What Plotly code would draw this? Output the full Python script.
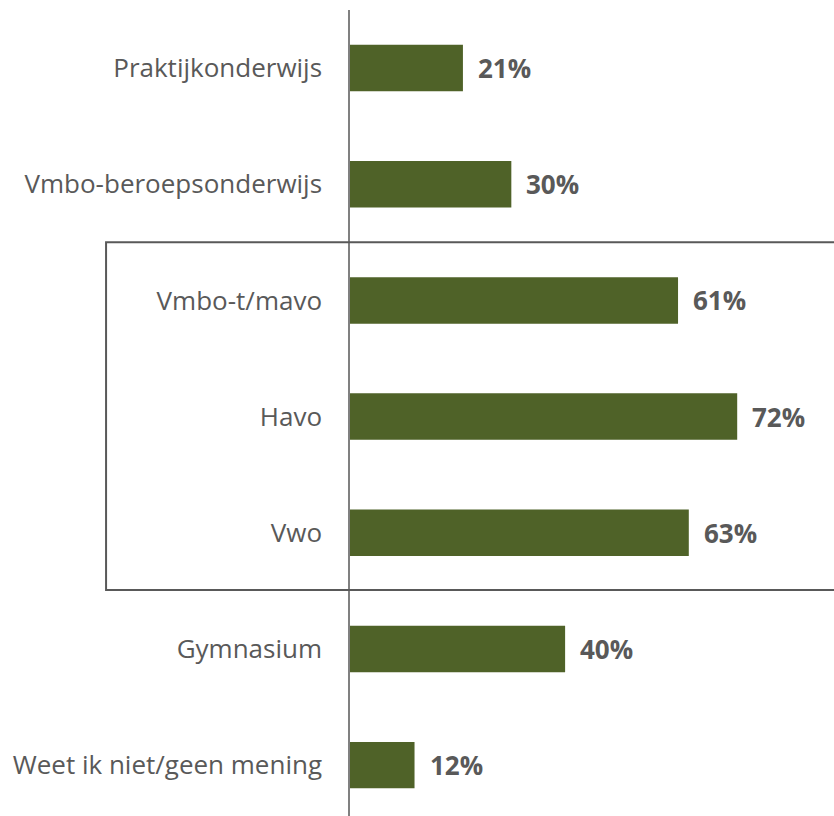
import plotly.graph_objects as go

categories = ["Praktijkonderwijs", "Vmbo-beroepsonderwijs", "Vmbo-t/mavo", "Havo", "Vwo",
              "Gymnasium", "Weet ik niet/geen mening"]
values = [21, 30, 61, 72, 63, 40, 12]
value_labels = [f"{v}%" for v in values]

BAR_COLOR = "#4F6228"
TEXT_COLOR = "#595959"
FONT = "Open Sans"

fig = go.Figure()
fig.add_trace(go.Bar(
    x=values, y=categories, orientation="h",
    marker=dict(color=BAR_COLOR, line=dict(width=0)),
    width=0.4, hoverinfo="skip",
))

for c, v, t in zip(categories, values, value_labels):
    fig.add_annotation(x=v, y=c, xref="x", yref="y", text=f"<b>{t}</b>",
                       showarrow=False, xanchor="left", yanchor="middle",
                       xshift=13, font=dict(family=FONT, size=26, color=TEXT_COLOR))

# box around the grouped categories
fig.add_shape(type="rect", xref="paper", yref="paper",
              x0=-0.504, x1=1.05, y0=0.2804, y1=0.712,
              line=dict(color="#595959", width=2), fillcolor="rgba(0,0,0,0)", layer="above")

fig.update_layout(
    width=834, height=816,
    margin=dict(l=350, r=0, t=10, b=0),
    paper_bgcolor="white", plot_bgcolor="white",
    showlegend=False,
    font=dict(family=FONT, color=TEXT_COLOR),
    xaxis=dict(range=[0, 90], visible=False, showgrid=False, zeroline=False),
    yaxis=dict(categoryorder="array", categoryarray=categories,
               range=[6.438, -0.5], showgrid=False, zeroline=False,
               showline=True, linecolor="#808080", linewidth=1.5,
               ticks="", ticklabelstandoff=21,
               tickfont=dict(family=FONT, size=26, color=TEXT_COLOR)),
)

fig.write_html("out.html", config={"displayModeBar": False},
               post_script="document.body.style.margin='0';document.body.style.overflow='hidden';")
